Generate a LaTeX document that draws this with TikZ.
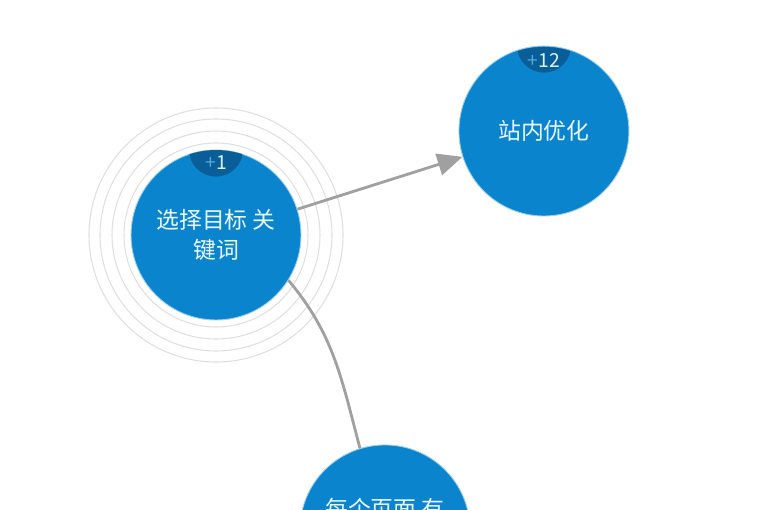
\documentclass[tikz,border=0pt]{standalone}
\usepackage{fontspec}
\setmainfont{Noto Sans CJK SC}
\usetikzlibrary{arrows.meta, positioning}
\definecolor{topicblue}{HTML}{0A84CC}
\definecolor{badgeblue}{HTML}{0A5E98}
\definecolor{linkgray}{HTML}{A0A0A0}

\begin{document}
\begin{tikzpicture}[
						x=0.02cm, y=-0.02cm,
						topic/.style = {circle, fill=topicblue, draw=topicblue!40!white, line width=0.5pt, minimum size=3.4cm, inner sep=0pt, text=white!92!cyan, font=\fontsize{13}{17}\selectfont, align=center},
						badge/.style = {fill=badgeblue},
						count/.style = {text=white!85!cyan, font=\fontsize{11}{13}\selectfont, inner sep=0pt},
						ring/.style = {draw=gray!25, line width=0.6pt},
						link/.style = {draw=linkgray, line width=1.6pt},
					]

\useasboundingbox (0,0) rectangle (768,510);

% halo around the selected topic
\foreach \r in {92,104,116,127}
	\draw[ring] (216,235) circle[radius=\r];

\node[topic] (key) at (216,235) {选择目标 关\\键词};
\node[topic, on grid] (site) [above right=20.8mm and 65.6mm of key] {站内优化};
\node[topic, on grid] (page) [below right=59mm and 33.8mm of key] {};
\node[topic, draw=none, fill=none, minimum size=0pt] (pagetext) at ([yshift=4.2mm]page.center) {每个页面 有};

\draw[white, line width=0.8pt] (key.center) circle[radius=88];

% counters
\begin{scope}
	\clip (key.center) circle[radius=85];
	\fill[badge] (key.north) circle[radius=27];
\end{scope}
\begin{scope}
	\clip (site.center) circle[radius=84];
	\fill[badge] (site.north) circle[radius=27];
\end{scope}
\node[count] (keycount) at ([yshift=-2.6mm]key.north) {\textcolor{topicblue!70!white}{+}1};
\node[count] (sitecount) at ([yshift=-3mm]site.north) {\textcolor{topicblue!70!white}{+}12};

\draw[link, -{Triangle[length=5mm, width=4.4mm]}] (key) -- (site);
\draw[link] (key.-32) to [out=-50,in=105] (page.107);

\end{tikzpicture}
\end{document}
